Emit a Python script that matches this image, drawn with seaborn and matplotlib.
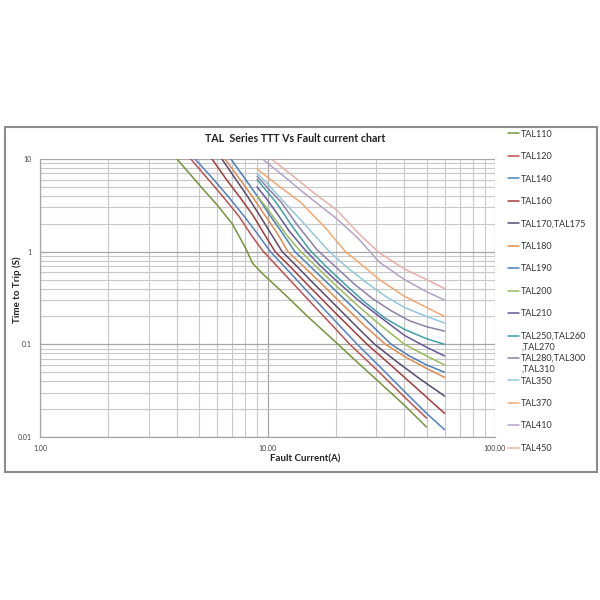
import numpy as np
import pandas as pd
import matplotlib.pyplot as plt
import matplotlib.ticker as mticker
from matplotlib.patches import Rectangle
import seaborn as sns

# === DATA ===
series_names = ["TAL110", "TAL120", "TAL140", "TAL160", "TAL170,TAL175", "TAL180",
                "TAL190", "TAL200", "TAL210", "TAL250,TAL260", "TAL280,TAL300",
                "TAL350", "TAL370", "TAL410", "TAL450"]
# legend text that Excel wrapped onto a second line
wrapped_text = {"TAL250,TAL260": ",TAL270", "TAL280,TAL300": ",TAL310"}

currents = [
    [4.0, 5.0, 6.0, 7.0, 8.0, 8.6, 9.5, 12, 15, 20, 25, 30, 40, 50],
    [4.6, 5.5, 6.5, 7.5, 8.5, 9.6, 11, 13, 16, 20, 23, 30, 40, 50],
    [4.8, 5.8, 6.8, 7.8, 8.8, 10.3, 12, 15, 20, 24.8, 30, 40, 50, 60],
    [5.7, 6.6, 7.6, 8.6, 9.6, 10.8, 12.5, 15, 20, 27.4, 35, 45, 60],
    [6.3, 7.2, 8.2, 9.2, 10.3, 11.6, 13.5, 16, 20, 25, 29.6, 37, 47, 60],
    [6.5, 7.5, 8.6, 9.7, 11, 12.3, 14, 17, 21, 27, 33, 40, 50, 60],
    [6.9, 7.9, 9, 10.2, 11.6, 13.2, 15, 18, 22, 28, 35, 42, 50, 60],
    [9, 10, 11, 12.3, 13.9, 16, 20, 25, 31, 40, 50, 60],
    [9, 10, 11, 12.5, 14.6, 17, 20, 25, 31, 40, 50, 60],
    [9, 10, 11, 12.8, 15.3, 18, 22, 27, 33, 40, 50, 60],
    [9, 10, 11.5, 13.5, 16.5, 20, 24, 29, 35, 42, 50, 60],
    [9, 10, 12, 14.5, 18.5, 22, 27, 33, 40, 50, 60],
    [9, 11, 14, 18, 22, 26, 31, 40, 50, 60],
    [9.5, 12, 15, 20, 25, 31, 40, 50, 60],
    [10.4, 13, 16, 20.2, 25, 31, 40, 50, 60],
]

trip_times = [
    [10, 5.3, 3.2, 2.0, 1.1, 0.75, 0.58, 0.34, 0.2, 0.105, 0.063, 0.042, 0.022, 0.0128],
    [10, 6.0, 3.7, 2.4, 1.5, 1.0, 0.7, 0.45, 0.26, 0.145, 0.1, 0.054, 0.027, 0.016],
    [10, 6.0, 3.8, 2.5, 1.7, 1.0, 0.67, 0.37, 0.175, 0.1, 0.063, 0.031, 0.018, 0.012],
    [10, 6.0, 3.8, 2.5, 1.6, 1.0, 0.7, 0.44, 0.215, 0.1, 0.059, 0.034, 0.018],
    [10, 6.2, 3.9, 2.5, 1.6, 1.0, 0.69, 0.45, 0.26, 0.15, 0.1, 0.065, 0.042, 0.0277],
    [10, 6.2, 3.9, 2.5, 1.6, 1.0, 0.74, 0.47, 0.28, 0.155, 0.1, 0.074, 0.055, 0.044],
    [10, 6.3, 4.0, 2.5, 1.6, 1.0, 0.74, 0.48, 0.3, 0.17, 0.1, 0.075, 0.06, 0.05],
    [4.0, 2.9, 2.1, 1.45, 1.02, 0.73, 0.43, 0.26, 0.165, 0.1, 0.075, 0.06],
    [5.0, 3.6, 2.6, 1.65, 1.05, 0.71, 0.49, 0.3, 0.2, 0.125, 0.093, 0.075],
    [6.0, 4.4, 3.3, 1.9, 1.05, 0.7, 0.44, 0.28, 0.19, 0.145, 0.115, 0.1],
    [6.5, 4.9, 3.4, 1.95, 1.05, 0.68, 0.45, 0.31, 0.23, 0.18, 0.155, 0.139],
    [7.0, 5.4, 3.3, 2.0, 1.03, 0.7, 0.47, 0.33, 0.25, 0.2, 0.17],
    [7.8, 5.3, 3.4, 1.8, 1.0, 0.72, 0.5, 0.33, 0.25, 0.2],
    [10, 6.3, 4.0, 2.3, 1.4, 0.77, 0.5, 0.37, 0.3],
    [10, 6.5, 4.3, 2.8, 1.6, 0.97, 0.65, 0.5, 0.4],
]

colors = ["#77933C", "#C0504D", "#4F81BD", "#A33B3B", "#574A6E", "#E48A4A",
          "#4A7EBB", "#9BBB59", "#66579A", "#3FA0A8", "#8D7FA8", "#93C6DA",
          "#F5A870", "#B3A2C7", "#E6B0AA"]

# === Build long DataFrame ===
rows = []
for name, xs, ys in zip(series_names, currents, trip_times):
    for x, y in zip(xs, ys):
        rows.append({"series": name, "current": x, "time": y})
df = pd.DataFrame(rows)

# === Plot ===
sns.set_style("white")
plt.rcParams["font.family"] = ["Lato", "DejaVu Sans"]

fig = plt.figure(figsize=(6, 6), dpi=100)
ax = fig.add_axes([40 / 600, 1 - 437 / 600, 455 / 600, 278 / 600])

sns.lineplot(data=df, x="current", y="time", hue="series", hue_order=series_names,
             palette=dict(zip(series_names, colors)), sort=False, estimator=None,
             units="series", linewidth=1.1, ax=ax)

ax.set_xscale("log")
ax.set_yscale("log")
ax.set_xlim(1, 100)
ax.set_ylim(0.01, 10)

ax.xaxis.set_major_locator(mticker.FixedLocator([1, 10, 100]))
ax.xaxis.set_major_formatter(mticker.FixedFormatter(["1.00", "10.00", "100.00"]))
ax.yaxis.set_major_locator(mticker.FixedLocator([0.01, 0.1, 1, 10]))
ax.yaxis.set_major_formatter(mticker.FixedFormatter(["0.01", "0.1", "1", "10"]))
ax.xaxis.set_minor_locator(mticker.LogLocator(base=10, subs=np.arange(2, 10)))
ax.yaxis.set_minor_locator(mticker.LogLocator(base=10, subs=np.arange(2, 10)))
ax.xaxis.set_minor_formatter(mticker.NullFormatter())
ax.yaxis.set_minor_formatter(mticker.NullFormatter())

ax.grid(which="major", color="#A6A6A6", linewidth=0.9)
ax.grid(which="minor", color="#C8C8C8", linewidth=0.8)
ax.set_axisbelow(True)
ax.tick_params(which="both", length=0, labelsize=5, labelcolor="#404040", pad=6)
for side in ["top", "right"]:
    ax.spines[side].set_visible(False)
for side in ["left", "bottom"]:
    ax.spines[side].set_color("#A6A6A6")
    ax.spines[side].set_linewidth(0.9)

ax.set_xlabel("")
ax.set_ylabel("")

# titles and axis labels
fig.text(295 / 600, 1 - 139 / 600, "TAL  Series TTT Vs Fault current chart",
         ha="center", va="center", fontsize=7.7, fontweight="bold", color="#222222")
fig.text(305 / 600, 1 - 459 / 600, "Fault Current(A)", ha="center", va="center",
         fontsize=7, fontweight="bold", color="#222222")
fig.text(17 / 600, 1 - 290 / 600, "Time to Trip (S)", ha="center", va="center",
         rotation=90, fontsize=7, fontweight="bold", color="#222222")

# legend outside on the right
handles, labels = ax.get_legend_handles_labels()
ax.get_legend().remove()
leg = fig.legend(handles, labels, loc="upper left",
                 bbox_to_anchor=(504 / 600, 1 - 126 / 600), frameon=False,
                 fontsize=6.5, handlelength=1.3, handletextpad=0.2,
                 labelspacing=1.49, borderaxespad=0)
for txt in leg.get_texts():
    txt.set_color("#333333")

# continuation lines of the wrapped legend entries
fig.canvas.draw()
inv = fig.transFigure.inverted()
for txt in leg.get_texts():
    extra = wrapped_text.get(txt.get_text())
    if extra:
        bb = txt.get_window_extent().transformed(inv)
        fig.text(bb.x0, bb.y0 - 2 / 600, extra, ha="left", va="top",
                 fontsize=6.5, color="#333333")

# outer chart frame
fig.add_artist(Rectangle((5 / 600, 1 - 472 / 600), 592 / 600, 345 / 600,
                         transform=fig.transFigure, fill=False,
                         edgecolor="#8C8C8C", linewidth=1.5))

fig.savefig("out.png", dpi=100)
plt.close(fig)
